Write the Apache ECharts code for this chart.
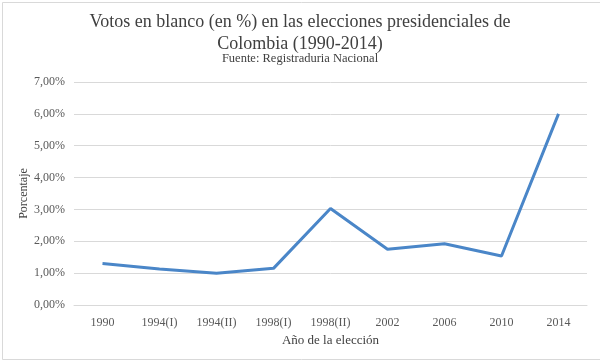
<!DOCTYPE html>
<html>
<head>
<meta charset="utf-8">
<script src="https://cdn.jsdelivr.net/npm/echarts@6/dist/echarts.min.js"></script>
<style>html,body{margin:0;padding:0;background:#fff}#c{width:600px;height:360px}</style>
</head>
<body>
<div id="c"></div>
<script>
var categories = ['1990','1994(I)','1994(II)','1998(I)','1998(II)','2002','2006','2010','2014'];
var votosBlanco = [1.30, 1.13, 1.00, 1.15, 3.03, 1.75, 1.92, 1.54, 6.00];
var titleText = 'Votos en blanco (en %) en las elecciones presidenciales de\nColombia (1990-2014)';
var subtitleText = 'Fuente: Registraduria Nacional';

var chart = echarts.init(document.getElementById('c'));
var serif = '"Liberation Serif", "DejaVu Serif", serif';
chart.setOption({
  backgroundColor: '#fff',
  animation: false,
  graphic: [{
    type: 'rect', left: 0, top: 0,
    shape: {x: 0.5, y: 0.5, width: 598, height: 357},
    style: {fill: 'none', stroke: '#d9d9d9', lineWidth: 1}, silent: true
  }],
  title: {
    text: titleText,
    subtext: subtitleText,
    left: 'center', top: 6,
    itemGap: -3,
    textStyle: {fontFamily: serif, fontSize: 18, fontWeight: 'normal', color: '#404040', lineHeight: 22},
    subtextStyle: {fontFamily: serif, fontSize: 12.5, color: '#404040', lineHeight: 14}
  },
  grid: {left: 74, right: 13, top: 82, bottom: 55, containLabel: false},
  xAxis: {
    type: 'category',
    data: categories,
    boundaryGap: true,
    name: 'Año de la elección',
    nameLocation: 'middle',
    nameGap: 29,
    nameMoveOverlap: false,
    nameTextStyle: {fontFamily: serif, fontSize: 13, color: '#404040'},
    axisLine: {show: true, lineStyle: {color: '#d9d9d9'}},
    axisTick: {show: false},
    axisLabel: {fontFamily: serif, fontSize: 12, color: '#595959', margin: 12, interval: 0}
  },
  yAxis: {
    type: 'value',
    min: 0, max: 7, interval: 1,
    name: 'Porcentaje',
    nameLocation: 'middle',
    nameGap: 44,
    nameMoveOverlap: false,
    nameTextStyle: {fontFamily: serif, fontSize: 12, color: '#404040'},
    axisLine: {show: false},
    axisTick: {show: false},
    axisLabel: {
      fontFamily: serif, fontSize: 12, color: '#595959', margin: 9,
      formatter: function (v) { return v.toFixed(2).replace('.', ',') + '%'; }
    },
    splitLine: {lineStyle: {color: '#d9d9d9', width: 1}}
  },
  series: [{
    type: 'line',
    data: votosBlanco,
    symbol: 'none',
    lineStyle: {color: '#4a86c8', width: 3},
    itemStyle: {color: '#4a86c8'}
  }]
});
</script>
</body>
</html>
